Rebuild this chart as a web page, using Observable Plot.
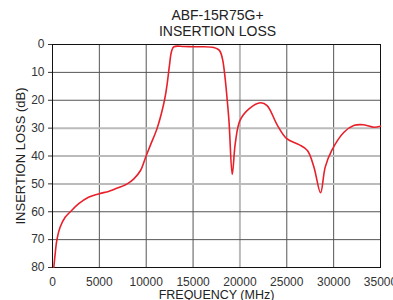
<!DOCTYPE html>
<html>
<head>
<meta charset="utf-8">
<script src="https://cdn.jsdelivr.net/npm/d3@7"></script>
<script src="https://cdn.jsdelivr.net/npm/@observablehq/plot@0.6"></script>
<style>
  html, body { margin: 0; padding: 0; background: #fff; }
  body { width: 393px; height: 300px; overflow: hidden; font-family: "Liberation Sans", Arial, sans-serif; }
  #title { height: 40px; box-sizing: border-box; padding-top: 7px; text-align: center; font-size: 14px; line-height: 16px; color: #222; padding-left: 42px; }
  #chart svg { display: block; overflow: visible; }
</style>
</head>
<body>
<div id="title"></div>
<div id="chart"></div>
<script>
const titleLines = ["ABF-15R75G+", "INSERTION LOSS"];
const xLabel = "FREQUENCY (MHz)";
const yLabel = "INSERTION LOSS (dB)";
const xTicks = [0, 5000, 10000, 15000, 20000, 25000, 30000, 35000];
const yTicks = [0, 10, 20, 30, 40, 50, 60, 70, 80];

const freq = [140, 285, 460, 820, 1350, 1960, 2770, 3840, 4910, 5980, 6540, 7970, 8680, 9390, 9920, 10460, 11170, 11950, 12240, 12480, 12700, 12950, 14000, 15000, 16000, 17200, 17700, 17900, 18170, 18800, 19180, 19500, 20000, 21000, 22200, 22900, 24000, 25000, 26300, 27200, 27900, 28600, 29100, 29800, 31100, 32200, 33200, 34300, 35000];
const loss = [79.9, 75.1, 70.3, 65.5, 62, 59.8, 57.2, 54.8, 53.6, 52.7, 52.0, 50, 48.2, 45.2, 40.6, 36, 30, 20, 14, 7.5, 2.5, 0.8, 0.7, 0.8, 0.8, 1.1, 1.8, 2.6, 5.7, 26, 46.6, 35.6, 27.3, 23, 20.9, 21.9, 29, 33.8, 35.9, 38, 44, 53.2, 44, 38, 31.5, 29, 28.8, 29.7, 29.3];

document.getElementById("title").innerHTML = titleLines.join("<br>");

const data = freq.map((f, i) => ({f, l: loss[i]}));
const darkX = xTicks.filter(v => v !== 20000 && v > 0 && v < 35000);
const lightX = [20000];
const darkY = yTicks.filter(v => ![0, 30, 40, 50, 80].includes(v));
const lightY = [30, 40, 50];

const chart = Plot.plot({
  width: 393,
  height: 260,
  marginLeft: 52,
  marginRight: 13,
  marginTop: 4,
  marginBottom: 33,
  style: {fontFamily: "Liberation Sans, Arial, sans-serif", fontSize: "12px", color: "#333", background: "#fff"},
  x: {domain: [0, 35000], ticks: xTicks, tickFormat: d => String(d), label: null},
  y: {domain: [0, 80], reverse: true, ticks: yTicks, label: null},
  marks: [
    Plot.ruleX(darkX, {stroke: "#555", strokeWidth: 1}),
    Plot.ruleX(lightX, {stroke: "#bbb", strokeWidth: 2}),
    Plot.ruleY(darkY, {stroke: "#555", strokeWidth: 1}),
    Plot.ruleY(lightY, {stroke: "#bbb", strokeWidth: 2}),
    Plot.frame({stroke: "#111", strokeWidth: 1}),
    Plot.axisX({ticks: xTicks, tickSize: 0, tickPadding: 10, tickFormat: d => String(d), label: null, fill: "#333"}),
    Plot.axisY({ticks: yTicks, tickSize: 4, tickPadding: 4, label: null, fill: "#333"}),
    Plot.text([xLabel], {frameAnchor: "bottom", dy: 27, text: d => d, fontSize: 12.5, fill: "#222", textAnchor: "middle", lineAnchor: "middle"}),
    Plot.text([yLabel], {frameAnchor: "left", dx: -32, rotate: -90, text: d => d, fontSize: 13, fill: "#222", textAnchor: "middle"}),
    Plot.line(data, {x: "f", y: "l", stroke: "#e8202a", strokeWidth: 1.6, curve: "catmull-rom"})
  ]
});
document.getElementById("chart").appendChild(chart);
</script>
</body>
</html>
